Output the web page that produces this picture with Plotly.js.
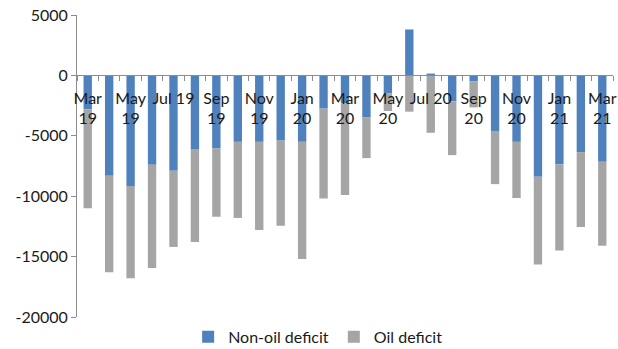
<!DOCTYPE html>
<html>
<head>
<meta charset="utf-8">
<script src="https://cdn.plot.ly/plotly-3.0.1.min.js"></script>
<style>
  html, body { margin: 0; padding: 0; background: #ffffff; }
  #chart { width: 618px; height: 349px; }
</style>
</head>
<body>
<div id="chart"></div>
<script>
// Monthly budget balance, split into non-oil and oil components
const months = [
  'Mar 19', 'Apr 19', 'May 19', 'Jun 19', 'Jul 19', 'Aug 19', 'Sep 19', 'Oct 19',
  'Nov 19', 'Dec 19', 'Jan 20', 'Feb 20', 'Mar 20', 'Apr 20', 'May 20', 'Jun 20',
  'Jul 20', 'Aug 20', 'Sep 20', 'Oct 20', 'Nov 20', 'Dec 20', 'Jan 21', 'Feb 21', 'Mar 21'
];

const nonOilDeficit = [
  -2800, -8300, -9150, -7400, -7900, -6100, -6050, -5500,
  -5500, -5400, -5500, -2750, -2300, -3450, -1500, 3800,
  150, -2150, -500, -4600, -5500, -8400, -7350, -6350, -7150
];

const oilDeficit = [
  -8200, -8000, -7650, -8550, -6300, -7700, -5650, -6300,
  -7300, -7050, -9700, -7450, -7600, -3400, -1450, -3000,
  -4750, -4450, -2150, -4400, -4650, -7250, -7150, -6200, -6950
];

// Every other month is labelled; labels wrap onto two lines
const tickLabels = [
  'Mar<br>19', '', 'May<br>19', '', 'Jul 19', '', 'Sep<br>19', '',
  'Nov<br>19', '', 'Jan<br>20', '', 'Mar<br>20', '', 'May<br>20', '',
  'Jul 20', '', 'Sep<br>20', '', 'Nov<br>20', '', 'Jan<br>21', '', 'Mar<br>21'
];

const yTicks = [5000, 0, -5000, -10000, -15000, -20000];

const font = 'Lato, "Open Sans", "Liberation Sans", sans-serif';
const axisGrey = '#8c8c8c';
const textColor = '#1a1a1a';
const yRange = [-20000, 5000];

const traces = [
  {
    type: 'bar',
    name: 'Non-oil deficit',
    x: months,
    y: nonOilDeficit,
    marker: { color: '#4f81bd' },
    hoverinfo: 'x+y+name'
  },
  {
    type: 'bar',
    name: 'Oil deficit',
    x: months,
    y: oilDeficit,
    marker: { color: '#a5a5a5' },
    hoverinfo: 'x+y+name'
  }
];

const layout = {
  width: 618,
  height: 349,
  margin: { l: 77, r: 5, t: 15, b: 32 },
  paper_bgcolor: '#ffffff',
  plot_bgcolor: '#ffffff',
  barmode: 'relative',
  bargap: 0.61,
  font: { family: font, size: 16, color: textColor },
  showlegend: true,
  legend: {
    orientation: 'h',
    xref: 'container',
    yref: 'container',
    x: 0.514,
    xanchor: 'center',
    y: 0.035,
    yanchor: 'middle',
    font: { family: font, size: 16, color: textColor },
    itemsizing: 'constant',
    traceorder: 'normal',
    itemwidth: 30,
    bgcolor: 'rgba(0,0,0,0)'
  },
  xaxis: {
    type: 'category',
    anchor: 'free',
    // category axis sits on the zero line
    position: (0 - yRange[0]) / (yRange[1] - yRange[0]),
    tickvals: months,
    ticktext: tickLabels,
    tickson: 'boundaries',
    ticks: 'outside',
    ticklen: 5,
    tickcolor: axisGrey,
    ticklabelstandoff: 8,
    showline: true,
    linecolor: axisGrey,
    linewidth: 1,
    showgrid: false,
    zeroline: false,
    tickangle: 0,
    tickfont: { family: font, size: 16, color: textColor },
    fixedrange: true
  },
  yaxis: {
    range: yRange,
    tickvals: yTicks,
    ticktext: yTicks.map(String),
    ticks: 'outside',
    ticklen: 5,
    tickcolor: axisGrey,
    showline: true,
    linecolor: axisGrey,
    linewidth: 1,
    showgrid: false,
    zeroline: false,
    tickfont: { family: font, size: 16, color: textColor },
    fixedrange: true
  }
};

Plotly.newPlot('chart', traces, layout, { displayModeBar: false, staticPlot: true });
</script>
</body>
</html>
